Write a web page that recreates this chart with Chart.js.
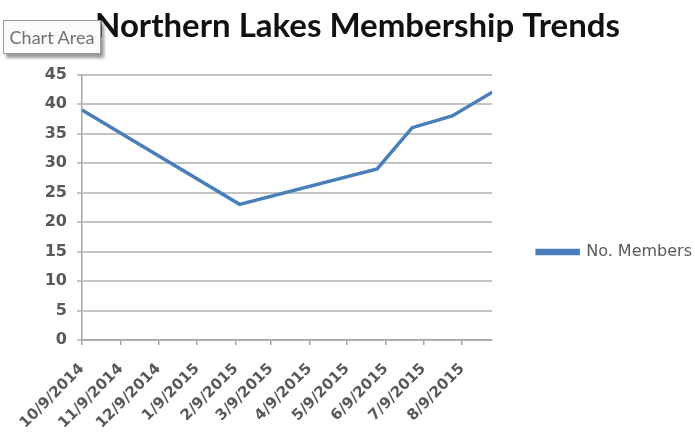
<!DOCTYPE html>
<html>
<head>
<meta charset="utf-8">
<script src="https://cdn.jsdelivr.net/npm/chart.js@4/dist/chart.umd.min.js"></script>
<style>
  html, body { margin: 0; padding: 0; background: #fff; }
  #wrap { position: relative; width: 695px; height: 435px; overflow: hidden; }
  #tip {
    position: absolute; left: 3px; top: 20px; width: 96px; height: 32px;
    background: #fbfbfd; border: 1px solid #9a9a9a;
    box-shadow: 3px 4px 3px rgba(0,0,0,0.4);
    font-family: Lato, "Open Sans", sans-serif; font-size: 18px; color: #707070;
    line-height: 32px; text-align: center; z-index: 5;
  }
</style>
</head>
<body>
<div id="wrap">
  <canvas id="c" width="695" height="435"></canvas>
  <div id="tip">Chart Area</div>
</div>
<script>
const chartTitle = 'Northern Lakes Membership Trends';
const seriesName = 'No. Members';
const pointDates = ['10/9/2014', '2/12/2015', '6/2/2015', '6/30/2015', '8/1/2015', '9/2/2015'];
const members = [39, 23, 29, 36, 38, 42];
const tickLabels = ['10/9/2014', '11/9/2014', '12/9/2014', '1/9/2015', '2/9/2015', '3/9/2015',
                    '4/9/2015', '5/9/2015', '6/9/2015', '7/9/2015', '8/9/2015'];
const axisEnd = '9/2/2015';
const yTicks = [0, 5, 10, 15, 20, 25, 30, 35, 40, 45];

function toDay(s) {
  const [m, d, y] = s.split('/').map(Number);
  return Math.round((Date.UTC(y, m - 1, d) - Date.UTC(2014, 9, 9)) / 86400000);
}
const tickDays = tickLabels.map(toDay);
const points = pointDates.map((d, i) => ({ x: toDay(d), y: members[i] }));

const titleFont = 'Lato, "Open Sans", sans-serif';
const labelFont = '"DejaVu Sans", sans-serif';
const grey = '#595959';

new Chart(document.getElementById('c'), {
  type: 'line',
  data: {
    datasets: [{
      label: seriesName,
      data: points,
      borderColor: '#4a7ebb',
      backgroundColor: '#4a7ebb',
      borderWidth: 3.5,
      pointRadius: 0,
      tension: 0
    }]
  },
  options: {
    responsive: false,
    animation: false,
    layout: { padding: { left: 13, right: -7, top: 0, bottom: 0 } },
    plugins: {
      tooltip: { enabled: false },
      title: {
        display: true,
        text: chartTitle,
        color: '#111',
        font: { family: titleFont, size: 33, weight: 'bold' },
        padding: { top: 7, bottom: 28 }
      },
      legend: {
        position: 'right',
        maxWidth: 260,
        title: { display: true, text: ' ', font: { size: 10 }, padding: { top: 0, bottom: 57 } },
        labels: {
          color: grey,
          font: { family: labelFont, size: 16 },
          boxWidth: 41,
          boxHeight: 3,
          padding: 45
        }
      }
    },
    scales: {
      x: {
        type: 'linear',
        min: 0,
        max: toDay(axisEnd),
        afterBuildTicks: (s) => { s.ticks = tickDays.map(v => ({ value: v })); },
        afterFit: (s) => { s.height = 95; },
        ticks: {
          autoSkip: false,
          minRotation: 45,
          maxRotation: 45,
          padding: 15,
          color: grey,
          font: { family: labelFont, size: 15, weight: 'bold' },
          callback: (v) => tickLabels[tickDays.indexOf(v)] ?? ''
        },
        grid: { drawOnChartArea: false, drawTicks: true, tickLength: 5, color: '#a6a6a6', lineWidth: 1.5 },
        border: { color: '#a6a6a6', width: 1.5 }
      },
      y: {
        min: 0,
        max: 45,
        afterBuildTicks: (s) => { s.ticks = yTicks.map(v => ({ value: v })); },
        afterFit: (s) => { s.width = 69; },
        ticks: {
          color: grey,
          font: { family: labelFont, size: 16, weight: 'bold' },
          padding: 10
        },
        grid: { color: '#c4c4c4', lineWidth: 2, tickLength: 5 },
        border: { color: '#a6a6a6', width: 1.5 }
      }
    }
  }
});
</script>
</body>
</html>
